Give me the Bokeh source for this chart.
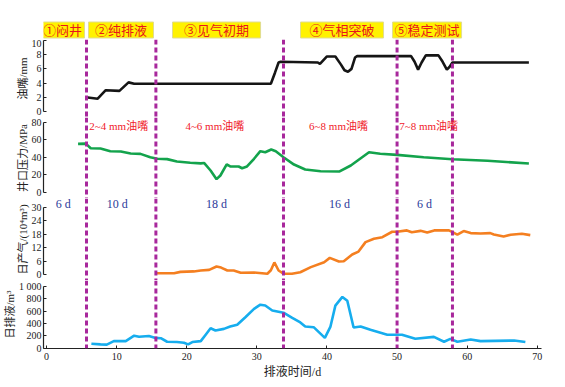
from bokeh.plotting import figure
from bokeh.models import Range1d, Span, Label, FixedTicker
from bokeh.layouts import column
from bokeh.embed import file_html
from bokeh.resources import INLINE
from bokeh.core.properties import value

# ---------------- data ----------------
phase_names = ["①闷井", "②纯排液", "③见气初期", "④气相突破", "⑤稳定测试"]
phase_bounds = [5.7, 15.6, 33.8, 50.0, 57.9]
day_labels = ["6 d", "10 d", "18 d", "16 d", "6 d"]
choke_labels = ["2~4 mm油嘴", "4~6 mm油嘴", "6~8 mm油嘴", "7~8 mm油嘴"]

choke_day = [5.6, 7.3, 8.45, 10.4, 11.7, 12.5, 32.0, 32.6, 33.1, 33.4, 38.7, 39.0, 40.0, 41.2,
             42.0, 42.5, 43.0, 43.5, 44.0, 44.3, 52.0, 52.5, 53.0, 53.5, 54.1, 55.9, 56.5, 57.1,
             57.5, 57.9, 68.8]
choke_mm = [2.0, 1.8, 3.0, 2.9, 4.1, 3.9, 3.9, 5.5, 6.9, 7.0, 6.9, 6.7, 7.75, 7.75,
            6.6, 5.8, 5.6, 6.0, 7.6, 7.8, 7.8, 7.0, 5.9, 6.9, 7.9, 7.9, 7.0, 5.9,
            6.3, 6.9, 6.9]

press_day = [4.5, 5.6, 6.3, 7.7, 9.1, 10.6, 12.0, 13.4, 14.8, 15.8, 17.2, 18.6, 20.5, 22.0,
             22.5, 23.4, 24.25, 24.8, 25.7, 26.2, 27.4, 27.9, 28.6, 29.6, 30.5, 31.2, 32.05,
             32.7, 33.8, 35.3, 36.9, 39.1, 41.8, 43.4, 46.0, 47.6, 50.0, 53.8, 57.9, 62.9, 68.8]
press_mpa = [55.3, 55.5, 50.3, 50.0, 46.9, 46.5, 44.2, 43.8, 40.0, 38.2, 37.8, 35.1, 33.6, 33.0,
             33.3, 24.8, 14.9, 19.1, 31.7, 29.4, 29.4, 27.4, 29.4, 38.2, 46.9, 45.7, 48.8,
             46.9, 40.0, 31.6, 25.9, 24.0, 23.7, 30.5, 45.7, 43.9, 42.7, 40.0, 37.7, 35.9, 32.8]

gas_day = [15.7, 18.2, 19.1, 21.0, 22.0, 23.2, 24.25, 24.9, 25.8, 26.7, 27.7, 29.6, 31.5, 32.0,
           32.5, 33.1, 33.85, 35.0, 36.2, 37.7, 39.6, 40.4, 41.7, 42.4, 43.6, 44.5, 45.5, 46.7,
           47.9, 49.3, 50.0, 51.4, 52.1, 53.35, 54.3, 55.3, 57.4, 57.9, 58.6, 59.5, 60.5, 61.9,
           63.3, 63.8, 65.2, 66.2, 67.8, 69.0]
gas_e4m3 = [0.7, 0.7, 1.3, 1.5, 1.9, 2.2, 3.7, 3.2, 1.9, 1.9, 0.9, 1.0, 0.45, 2.0,
            5.5, 1.9, 0.45, 0.45, 1.15, 3.4, 5.6, 7.5, 5.9, 6.0, 9.0, 10.3, 14.5, 16.0,
            16.7, 19.1, 19.1, 19.7, 18.9, 19.5, 18.8, 19.7, 19.7, 18.9, 17.8, 19.4, 18.5, 18.3,
            18.5, 17.9, 17.0, 17.8, 18.2, 17.6]

liq_day = [6.4, 7.7, 8.6, 9.6, 11.3, 12.5, 13.2, 14.6, 15.55, 16.3, 17.2, 18.6, 19.6, 20.2,
           20.8, 22.0, 22.7, 23.4, 24.1, 25.3, 26.2, 27.2, 28.4, 29.6, 30.5, 31.2, 32.2, 33.8,
           35.05, 36.2, 36.9, 38.1, 39.7, 40.5, 41.2, 42.2, 42.9, 43.8, 44.8, 46.2, 48.6, 50.7,
           52.6, 55.25, 56.7, 57.6, 58.6, 60.5, 61.9, 66.7, 68.3]
liq_m3 = [73, 63, 58, 115, 115, 203, 185, 198, 167, 162, 105, 100, 90, 63,
          100, 115, 219, 323, 287, 313, 350, 380, 505, 635, 703, 690, 610, 573,
          490, 417, 350, 340, 167, 350, 688, 828, 766, 334, 350, 297, 219, 219,
          152, 183, 105, 152, 105, 141, 115, 125, 100]

x_ticks = [0, 10, 20, 30, 40, 50, 60, 70]
choke_ticks = [0, 2, 4, 6, 8, 10]
press_ticks = [0, 20, 40, 60, 80]
gas_ticks = [0, 6, 12, 18, 24, 30]
liq_ticks = [0, 200, 400, 600, 800, 1000]

# ---------------- layout / style ----------------
FL, FW, FR = 43, 498, 16
W = FL + FW + FR
SERIF = "Liberation Serif, Noto Sans CJK SC"
INK = "#222222"
DASH = "#a8289c"
xr = Range1d(-0.43, 70.6)

# banner box extents (in days, shared x scale)
banner_left = [-0.86, 5.99, 17.97, 36.23, 49.36]
banner_right = [5.42, 15.26, 30.53, 48.07, 59.2]
choke_label_x = [10.3, 24.0, 41.65, 54.5]
day_label_x = [2.4, 10.1, 24.25, 41.8, 53.9]


def common(p):
    p.grid.visible = False
    p.outline_line_color = None
    p.background_fill_color = "white"
    p.border_fill_color = "white"


def base(h, yr, bottom=0, xaxis=False):
    p = figure(width=W, height=h, x_range=xr, y_range=Range1d(*yr),
               output_backend="svg", toolbar_location=None,
               x_axis_location="below" if xaxis else None, y_axis_location="left",
               min_border_left=FL, min_border_right=FR, min_border_top=0,
               min_border_bottom=bottom)
    common(p)
    for v in phase_bounds:
        p.add_layout(Span(location=v, dimension="height", line_color=DASH,
                          line_dash="5 3", line_width=3))
    return p


def style_axis(ax, ticks, label, overrides=None):
    ax.ticker = FixedTicker(ticks=ticks)
    ax.bounds = (ticks[0], ticks[-1])
    ax.major_tick_in = 3
    ax.major_tick_out = 0
    ax.minor_tick_in = 0
    ax.minor_tick_out = 0
    ax.axis_line_color = INK
    ax.axis_line_width = 1.2
    ax.major_tick_line_color = INK
    ax.major_label_text_font = SERIF
    ax.major_label_text_font_size = "10px"
    ax.major_label_text_color = INK
    ax.major_label_standoff = 2
    if overrides:
        ax.major_label_overrides = overrides
    ax.axis_label = label
    ax.axis_label_text_font = SERIF
    ax.axis_label_text_font_size = "11px"
    ax.axis_label_text_font_style = "normal"
    ax.axis_label_text_color = INK
    ax.axis_label_standoff = 0


# banner
pb = figure(width=W, height=39, x_range=xr, y_range=Range1d(39, 0),
            output_backend="svg", toolbar_location=None,
            x_axis_location=None, y_axis_location=None,
            min_border_left=FL, min_border_right=FR, min_border_top=0, min_border_bottom=0)
common(pb)
pb.quad(left=banner_left, right=banner_right, top=[21.5] * 5, bottom=[37.5] * 5,
        fill_color="#fff200", line_color="#e0dc90", line_width=1)
pb.text(x=[(a + b) / 2 for a, b in zip(banner_left, banner_right)], y=[29.5] * 5,
        text=phase_names, text_align="center", text_baseline="middle",
        text_color="#e8141c", text_font=value(SERIF), text_font_size="13px")

# panel 1: choke
p1 = base(78, (-0.85, 10.14))
p1.line(choke_day, choke_mm, line_color="#151515", line_width=2.6)
style_axis(p1.yaxis[0], choke_ticks, "油嘴/mm")

# panel 2: wellhead pressure
p2 = base(81, (-7.2, 85.4))
p2.line(press_day, press_mpa, line_color="#13a34c", line_width=2.6)
style_axis(p2.yaxis[0], press_ticks, "井口压力/MPa")
for t, x in zip(choke_labels, choke_label_x):
    p2.add_layout(Label(x=x, y=76.2, text=t, text_align="center", text_baseline="middle",
                        text_font=SERIF, text_font_size="11px", text_color="#f0202a"))

# panel 3: gas
p3 = base(82, (-2.53, 33.86))
p3.line(gas_day, gas_e4m3, line_color="#f47f20", line_width=2.6)
style_axis(p3.yaxis[0], gas_ticks, "日产气/(10⁴m³)")
for t, x in zip(day_labels, day_label_x):
    p3.add_layout(Label(x=x, y=31.5, text=t, text_align="center", text_baseline="middle",
                        text_font=SERIF, text_font_size="12px", text_color="#2b3a9a"))

# panel 4: liquid
p4 = base(101, (-4, 1093), bottom=30, xaxis=True)
p4.line(liq_day, liq_m3, line_color="#16adee", line_width=2.6)
style_axis(p4.yaxis[0], liq_ticks, "日排液/m³", {1000: "1 000"})
xa = p4.xaxis[0]
xa.ticker = FixedTicker(ticks=x_ticks)
xa.major_tick_in = 3
xa.major_tick_out = 0
xa.minor_tick_in = 0
xa.minor_tick_out = 0
xa.axis_line_color = INK
xa.axis_line_width = 1.2
xa.major_tick_line_color = INK
xa.major_label_text_font = SERIF
xa.major_label_text_font_size = "10px"
xa.major_label_text_color = INK
xa.major_label_standoff = 4
xa.axis_label = "排液时间/d"
xa.axis_label_text_font = SERIF
xa.axis_label_text_font_size = "12px"
xa.axis_label_text_font_style = "normal"
xa.axis_label_text_color = INK
xa.axis_label_standoff = 2

layout = column(pb, p1, p2, p3, p4, spacing=0)
open("out.html", "w").write(file_html(layout, INLINE))
